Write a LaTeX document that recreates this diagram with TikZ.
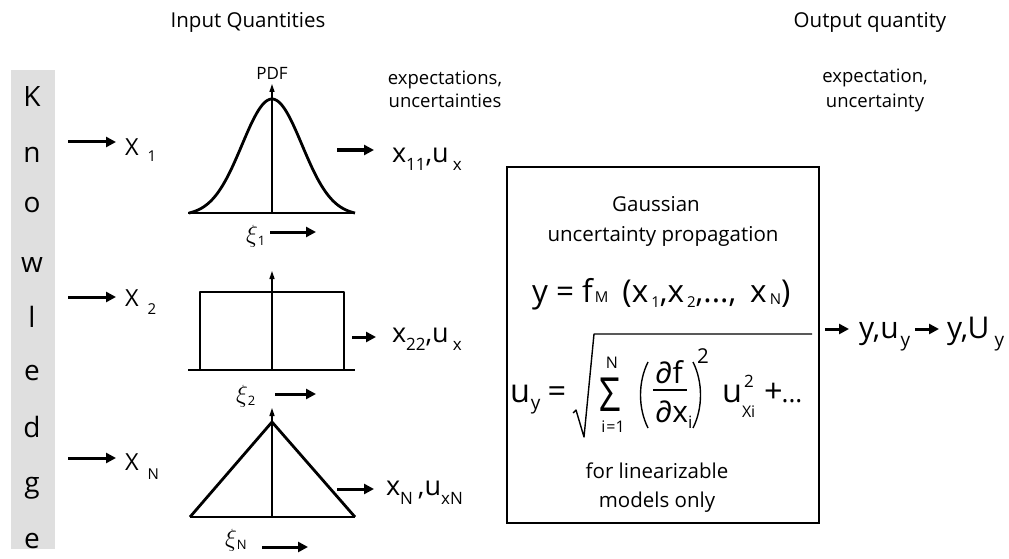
\documentclass[tikz,border=0pt]{standalone}
\usepackage{fontspec}
\setmainfont{Open Sans}
\newfontfamily\grk{Open Sans}
\usetikzlibrary{arrows.meta}
\newcommand\fsz[1]{\fontsize{#1}{#1}\selectfont}
\newcommand\dsub[3]{\raisebox{-#1pt}{\fsz{#2}#3}}
\begin{document}
\begin{tikzpicture}[x=1pt,y=-1pt,
  every node/.style={inner sep=0pt,outer sep=0pt},
  bigarrow/.style={line width=3pt,-{Triangle[length=10pt,width=10pt]}},
  axisline/.style={line width=1.3pt},
  axisarrow/.style={line width=1.3pt,-{Triangle[length=8pt,width=5pt]}},
  pdfcurve/.style={line width=2.8pt,line join=round},
  thinline/.style={line width=1.4pt}]
\useasboundingbox (0,0) rectangle (1009,559);
% titles
\node[anchor=base,font=\fsz{20.5}] (tin) at (248,28) {Input Quantities};
\node[anchor=base,font=\fsz{20.5}] (tout) at (870,28) {Output quantity};
\node[anchor=base,font=\fsz{18.5}] (ex1) at (445,85) {expectations,};
\node[anchor=base,font=\fsz{18.5}] (ex2) at (445,108) {uncertainties};
\node[anchor=base,font=\fsz{18.5}] (oex1) at (875,83) {expectation,};
\node[anchor=base,font=\fsz{18.5}] (oex2) at (875,108) {uncertainty};
% knowledge bar
\fill[gray!25] (11,70) rectangle (55,549);
\foreach \ch/\yy [count=\i] in {K/107,n/162,o/212,w/272,l/327,e/380,d/437,g/492,e/548}
  \node[anchor=base,font=\fsz{28}] (kn\i) at (32,\yy) {\ch};
% inputs
\coordinate (a1s) at (68,142); \coordinate (a1e) at (116,142);
\coordinate (a2s) at (68,297); \coordinate (a2e) at (116,297);
\coordinate (a3s) at (68,458); \coordinate (a3e) at (116,458);
\draw[bigarrow] (a1s) -- (a1e);
\draw[bigarrow] (a2s) -- (a2e);
\draw[bigarrow] (a3s) -- (a3e);
\node[anchor=base west,font=\fsz{23.5}] (X1) at (125,155) {X\hspace{9pt}\dsub{6}{15}{1}};
\node[anchor=base west,font=\fsz{23.5}] (X2) at (125,306) {X\hspace{9pt}\dsub{8}{15}{2}};
\node[anchor=base west,font=\fsz{23.5}] (XN) at (125,470) {X\hspace{9pt}\dsub{9}{15}{N}};
% Gaussian
\node[anchor=base,font=\fsz{17}] (pdf) at (272,80) {PDF};
\draw[axisline] (188,213) -- (353,213);
\draw[axisarrow] (272,213) -- (272,84);
\draw[pdfcurve] plot[domain=-83:83,samples=90,smooth] ({272+\x},{213-114*(exp(-\x*\x/1800)-0.022)/0.978});
\node[anchor=base west,font=\fsz{25}] (xi1) at (246,242) {$\xi$\dsub{3}{13}{1}};
\coordinate (g1s) at (270,232); \coordinate (g1e) at (316,232);
\draw[bigarrow] (g1s) -- (g1e);
% rectangle
\draw[axisline] (188,370) -- (355,370);
\draw[axisarrow] (272,370) -- (272,271);
\draw[pdfcurve] (200,370) -- (200,292) -- (344,292) -- (344,370);
\node[anchor=base west,font=\fsz{26}] (xi2) at (236,402) {$\xi$\dsub{3}{13}{2}};
\coordinate (g2s) at (275,394); \coordinate (g2e) at (316,394);
\draw[bigarrow] (g2s) -- (g2e);
% triangle
\draw[axisline] (190,517) -- (355,517);
\draw[axisarrow] (272,517) -- (272,408);
\draw[pdfcurve] (190,517) -- (272,422) -- (355,517);
\node[anchor=base west,font=\fsz{25}] (xi3) at (225,546) {$\xi$\dsub{3}{13}{N}};
\coordinate (g3s) at (262,547); \coordinate (g3e) at (308,547);
\draw[bigarrow] (g3s) -- (g3e);
% outputs of PDFs
\coordinate (o1s) at (337,150); \coordinate (o1e) at (374,150);
\coordinate (o2s) at (352,337); \coordinate (o2e) at (376,337);
\coordinate (o3s) at (337,489); \coordinate (o3e) at (374,489);
\draw[bigarrow] (o1s) -- (o1e);
\draw[bigarrow] (o2s) -- (o2e);
\draw[bigarrow] (o3s) -- (o3e);
\node[anchor=base west,font=\fsz{27}] (x11) at (392,162) {x\dsub{8}{17}{11},u\hspace{4pt}\dsub{8}{17}{x}};
\node[anchor=base west,font=\fsz{27}] (x22) at (392,342) {x\dsub{8}{17}{22},u\hspace{4pt}\dsub{8}{17}{x}};
\node[anchor=base west,font=\fsz{27}] (xNN) at (386,495) {x\dsub{9}{17}{N}\hspace{5pt},u\dsub{9}{17}{xN}};
% box
\draw[thinline] (507,167) rectangle (819,523);
\node[anchor=base,font=\fsz{20.5}] (ga1) at (656,211) {Gaussian};
\node[anchor=base,font=\fsz{20.5}] (ga2) at (663,241) {uncertainty propagation};
\node[anchor=base west,font=\fsz{31.5}] (eq1) at (532,302) {y = f\hspace{2pt}{\fsz{15}M}\hspace{14pt}(x\hspace{3pt}\dsub{5}{15}{1},x\hspace{3pt}\dsub{5}{15}{2},...,\hspace{14pt}x\hspace{3pt}\dsub{2}{15}{N})};
% second formula
\node[anchor=base west,font=\fsz{32.5}] (uy) at (510,402) {u\hspace{1pt}\dsub{7}{19}{y}};
\node[anchor=base,font=\fsz{32.5}] (eqs) at (557,402) {=};
\coordinate (r0) at (573,413); \coordinate (r1) at (576,410); \coordinate (r2) at (584,437);
\coordinate (r3) at (594,334); \coordinate (r4) at (812,334);
\draw[line width=1.4pt,line join=round] (r0) -- (r1) -- (r2) -- (r3) -- (r4);
\node[anchor=base,font=\grk\fsz{47}] (sig) at (610,411) {\scalebox{0.8}[1]{Σ}};
\node[anchor=base,font=\fsz{16}] (sN) at (612,368) {N};
\node[anchor=base,font=\fsz{16}] (si) at (613,432) {i\hspace{1pt}=1};
\draw[line width=1.4pt] (648,362) .. controls (638,382) and (638,408) .. (648,428);
\draw[line width=1.4pt] (693,362) .. controls (703,382) and (703,408) .. (693,428);
\node[anchor=base,font=\fsz{30}] (df) at (669,383) {{\grk ∂}f};
\draw[line width=1.1pt] (653,390) -- (687,390);
\node[anchor=base west,font=\fsz{30}] (dx) at (655,422) {{\grk ∂}x\dsub{6}{17}{i}};
\node[anchor=base,font=\fsz{20.5}] (sq) at (703,363) {2};
\node[anchor=base west,font=\fsz{32.5}] (u2) at (722,402) {u};
\node[anchor=base,font=\fsz{17}] (u2s) at (749,387) {2};
\node[anchor=base west,font=\fsz{16}] (u2x) at (742,417) {Xi};
\node[anchor=base west,font=\fsz{32.5}] (plus) at (764,402) {+\hspace{-1pt}{\fsz{26}...}};
\node[anchor=base,font=\fsz{20.5}] (lin1) at (657,478) {for linearizable};
\node[anchor=base,font=\fsz{20.5}] (lin2) at (657,507) {models only};
% output
\coordinate (b1s) at (825,329); \coordinate (b1e) at (849,329);
\coordinate (b2s) at (915,329); \coordinate (b2e) at (939,329);
\draw[bigarrow] (b1s) -- (b1e);
\draw[bigarrow] (b2s) -- (b2e);
\node[anchor=base west,font=\fsz{30}] (yu) at (859,338) {y,u\hspace{2pt}\dsub{8}{19}{y}};
\node[anchor=base west,font=\fsz{30}] (yU) at (947,338) {y,U\hspace{5pt}\dsub{8}{19}{y}};
\end{tikzpicture}
\end{document}
